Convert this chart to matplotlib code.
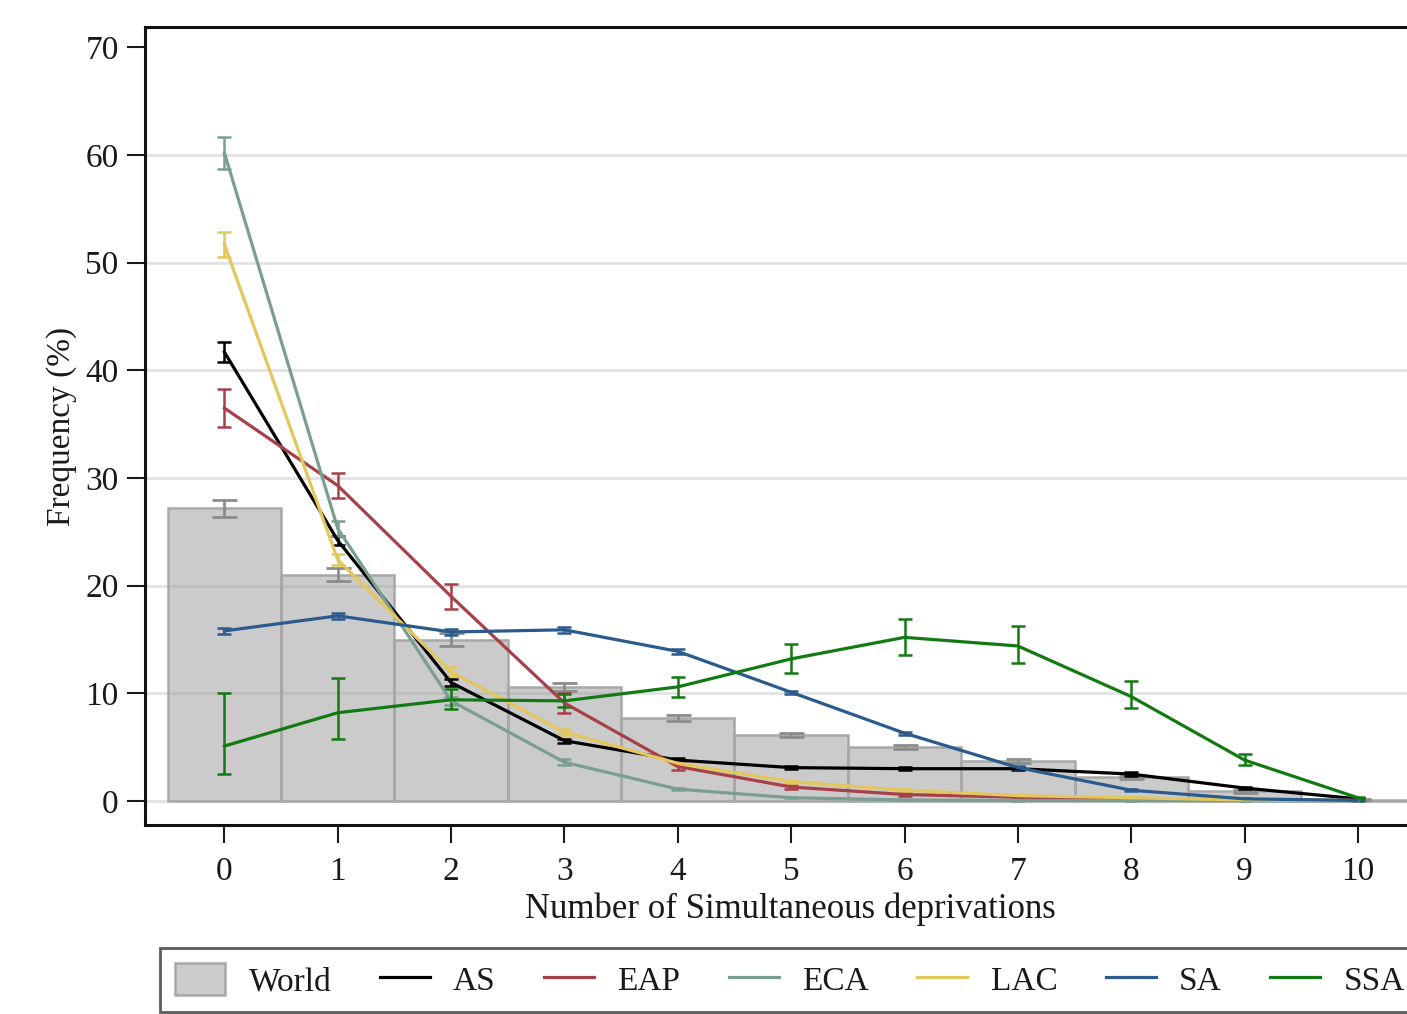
import numpy as np
import matplotlib
matplotlib.use('Agg')
import matplotlib.pyplot as plt
from matplotlib.patches import Patch
from matplotlib.lines import Line2D

plt.rcParams['font.family'] = ['Liberation Serif', 'DejaVu Serif']

########
# data
n_depriv = [0, 1, 2, 3, 4, 5, 6, 7, 8, 9, 10]

world = [27.2, 21.0, 15.0, 10.6, 7.7, 6.1, 5.0, 3.7, 2.2, 0.9, 0.1]
world_err = [0.8, 0.6, 0.6, 0.4, 0.25, 0.2, 0.2, 0.2, 0.15, 0.15, 0.05]

as_vals = [41.7, 24.2, 11.0, 5.6, 3.8, 3.1, 3.0, 3.0, 2.5, 1.2, 0.2]
as_err = [0.9, 0.4, 0.3, 0.2, 0.15, 0.15, 0.15, 0.15, 0.15, 0.1, 0.05]

eap_vals = [36.5, 29.3, 19.0, 9.1, 3.2, 1.3, 0.6, 0.35, 0.2, 0.1, 0.05]
eap_err = [1.8, 1.2, 1.2, 0.9, 0.3, 0.15, 0.1, 0.05, 0.05, 0.03, 0.02]

eca_vals = [60.2, 25.3, 9.3, 3.6, 1.1, 0.3, 0.1, 0.05, 0.05, 0.02, 0.01]
eca_err = [1.5, 0.7, 0.4, 0.3, 0.1, 0.05, 0.03, 0.02, 0.02, 0.01, 0.01]

lac_vals = [51.7, 22.4, 12.0, 6.4, 3.5, 1.8, 1.0, 0.5, 0.3, 0.1, 0.05]
lac_err = [1.2, 0.5, 0.4, 0.3, 0.2, 0.1, 0.08, 0.05, 0.04, 0.02, 0.01]

sa_vals = [15.8, 17.2, 15.7, 15.9, 13.9, 10.1, 6.3, 3.1, 1.0, 0.2, 0.05]
sa_err = [0.3, 0.3, 0.3, 0.25, 0.2, 0.15, 0.15, 0.15, 0.1, 0.05, 0.02]

ssa_vals = [5.1, 8.2, 9.4, 9.3, 10.6, 13.2, 15.2, 14.4, 9.7, 3.8, 0.3]
ssa_lo = [2.5, 5.8, 8.5, 8.7, 9.7, 11.9, 13.6, 12.8, 8.6, 3.3, 0.2]
ssa_hi = [10.0, 11.4, 10.4, 9.9, 11.5, 14.6, 16.9, 16.3, 11.1, 4.4, 0.4]

regions = ['AS', 'EAP', 'ECA', 'LAC', 'SA', 'SSA']
colors = ['#000000', '#a8404a', '#7a9e92', '#e3c65c', '#2b5a8c', '#137a13']
########

x = np.array(n_depriv)
text_col = '#1a1a1a'

fig = plt.figure(figsize=(14.07, 10.14), dpi=100)
ax = fig.add_axes([0.1031, 0.1864, 0.9168, 0.787])

# grid
for g in range(0, 70, 10):
    ax.axhline(g, color='#e2e2e2', lw=2, zorder=0)

# world bars
ax.bar(x, world, width=1.0, color=(0.6, 0.6, 0.6, 0.5), edgecolor='#a8a8a8',
       linewidth=1.8, zorder=1)
ax.errorbar(x, world, yerr=world_err, fmt='none', ecolor='#8c8c8c', elinewidth=2,
            capsize=9, capthick=2, zorder=2)

series = [as_vals, eap_vals, eca_vals, lac_vals, sa_vals, ssa_vals]
errs = [as_err, eap_err, eca_err, lac_err, sa_err, None]
for vals, err, col in zip(series, errs, colors):
    vals = np.array(vals)
    if err is None:
        yerr = [vals - np.array(ssa_lo), np.array(ssa_hi) - vals]
    else:
        yerr = err
    ax.errorbar(x, vals, yerr=yerr, fmt='none', ecolor=col, elinewidth=1.8,
                capsize=5, capthick=1.8, zorder=3)
    ax.plot(x, vals, color=col, lw=2.3, zorder=4)

ax.set_xlim(-0.7, 10.68)
ax.set_ylim(-2.23, 71.9)
ax.set_xticks(x)
ax.set_yticks(range(0, 80, 10))
ax.tick_params(axis='both', labelsize=24, length=13, width=1.5, colors=text_col)
ax.tick_params(axis='x', pad=10)
ax.tick_params(axis='y', pad=6)
for s in ['top', 'bottom', 'left', 'right']:
    ax.spines[s].set_linewidth(2.2)
    ax.spines[s].set_color('#111111')

ax.set_xlabel('Number of Simultaneous deprivations', fontsize=25, color=text_col,
              labelpad=4)
ax.set_ylabel('Frequency (%)', fontsize=24, color=text_col, labelpad=6)

handles = [Patch(facecolor='#cccccc', edgecolor='#a8a8a8', linewidth=1.8, label='World')]
for r, c in zip(regions, colors):
    handles.append(Line2D([0], [0], color=c, lw=2.3, label=r))

leg = fig.legend(handles=handles, loc='upper center', bbox_to_anchor=(0.5615, 0.0651),
                 ncol=7, fontsize=24, frameon=True, fancybox=False,
                 handlelength=1.5, handleheight=1.1, handletextpad=0.7,
                 columnspacing=1.45, borderpad=0.45, borderaxespad=0,
                 labelcolor=text_col)
leg.get_frame().set_edgecolor('#333333')
leg.get_frame().set_linewidth(2)

plt.savefig('out.png', dpi=100)
